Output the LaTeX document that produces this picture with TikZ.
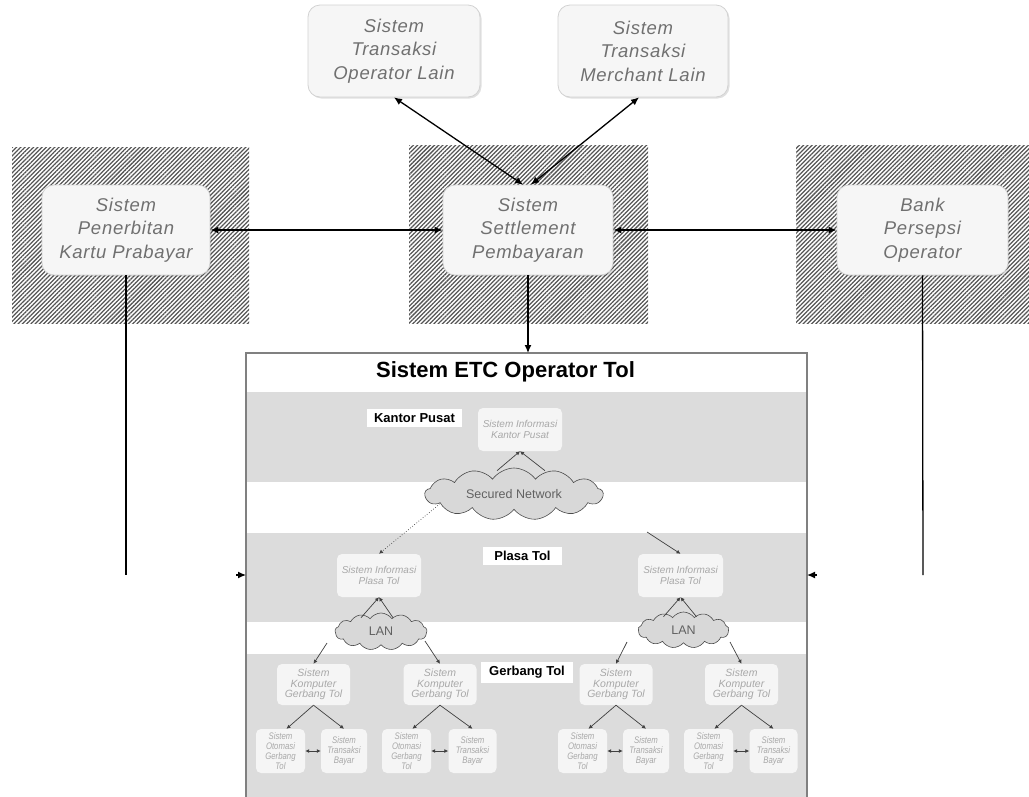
\documentclass[tikz,border=0pt]{standalone}
\usepackage{fontspec}
\setmainfont{Liberation Sans}
\newfontfamily\topfont[LetterSpace=4]{Liberation Sans}
\newfontfamily\narrowfont[FakeStretch=0.82]{Liberation Sans}
\usetikzlibrary{arrows.meta,patterns.meta,shapes.symbols,calc,shadows}
\definecolor{boxfill}{HTML}{F6F6F6}
\definecolor{boxline}{HTML}{D2D2D2}
\definecolor{boxtext}{HTML}{707070}
\definecolor{band}{HTML}{DCDCDC}
\definecolor{innerfill}{HTML}{F5F5F5}
\definecolor{innertext}{HTML}{A8A8A8}
\definecolor{cloudfill}{HTML}{D8D8D8}
\definecolor{etcline}{HTML}{808080}
\definecolor{hatch}{HTML}{555555}
\tikzset{
  bigbox/.style={rectangle, rounded corners=12pt, fill=boxfill, draw=boxline, line width=0.8pt,
    font=\topfont\itshape\fontsize{18.5}{23.5}\selectfont, text=boxtext, align=center, inner sep=0pt,
    drop shadow={shadow xshift=1.5pt, shadow yshift=-1.5pt, fill=black, opacity=0.12}},
  hatchbox/.style={pattern={Lines[angle=45,distance=3pt,line width=1.25pt]}, pattern color=hatch},
  innerbox/.style={rectangle, rounded corners=5pt, fill=innerfill, align=center, inner sep=0pt,
    text=innertext, font=\itshape\fontsize{10}{11}\selectfont},
  kompbox/.style={innerbox, minimum width=73pt, minimum height=41pt, font=\itshape\fontsize{10.5}{10.5}\selectfont},
  tinybox/.style={innerbox, minimum height=44pt, font=\narrowfont\itshape\fontsize{9.5}{9.8}\selectfont},
  tierlabel/.style={fill=white, font=\bfseries\fontsize{13}{15}\selectfont, inner sep=0pt},
  netcloud/.style={cloud, cloud puffs=13, cloud puff arc=110, cloud ignores aspect, fill=cloudfill,
    draw=black!70, line width=0.6pt, inner sep=0pt, text=black!62, font=\fontsize{12.5}{14}\selectfont},
  bigarrow/.style={line width=1.3pt, {Latex[length=8pt,width=7pt]}-{Latex[length=8pt,width=7pt]}},
  bigline/.style={line width=1.3pt},
  downarrow/.style={line width=1.3pt, -{Latex[length=8pt,width=7pt]}},
  link/.style={draw=black!75, line width=0.7pt, -{Latex[length=4pt,width=4pt]}},
  dotlink/.style={link, dotted},
  dlink/.style={draw=black!75, line width=0.8pt, {Latex[length=4pt,width=4pt]}-{Latex[length=4pt,width=4pt]}},
}
\begin{document}
\begin{tikzpicture}[x=1pt,y=-1pt]
\useasboundingbox (0,0) rectangle (1029,796);

% hatched regions
\fill[hatchbox] (12,147) rectangle (249,323);
\fill[hatchbox] (409,145) rectangle (648,323);
\fill[hatchbox] (796,145) rectangle (1029,323);

% top-level boxes
\node[bigbox, minimum width=172pt, minimum height=92pt] (opl) at (394,51) {Sistem\\Transaksi\\Operator Lain};
\node[bigbox, minimum width=170pt, minimum height=92pt] (mer) at (643,51) {Sistem\\Transaksi\\Merchant Lain};
\node[bigbox, minimum width=168pt, minimum height=90pt] (kartu) at (126,230) {Sistem\\Penerbitan\\Kartu Prabayar};
\node[bigbox, minimum width=170pt, minimum height=90pt] (settle) at (528,230) {Sistem\\Settlement\\Pembayaran};
\node[bigbox, minimum width=171pt, minimum height=90pt] (bank) at (922.5,230) {Bank\\Persepsi\\Operator};

% ETC system container
\fill[band] (247,392) rectangle (807,482);
\fill[band] (247,533) rectangle (807,622);
\fill[band] (247,654) rectangle (807,800);
\draw[etcline, line width=2pt] (246,800) -- (246,353) -- (807,353) -- (807,800);
\coordinate (etcTop) at (528,353);
\coordinate (etcL) at (246,575);
\coordinate (etcR) at (807,575);
\node[font=\bfseries\fontsize{22}{26}\selectfont] (title) at (505.5,372) {Sistem ETC Operator Tol};

% top connectors
\draw[bigarrow] (opl.south) -- ($(settle.north)+(-5,0)$);
\draw[bigarrow] ($(mer.south)+(-4,0)$) -- ($(settle.north)+(3,0)$);
\draw[bigarrow] (kartu.east) -- (settle.west);
\draw[bigarrow] (settle.east) -- (bank.west);
\draw[downarrow] (settle.south) -- (etcTop);
\coordinate (kdown) at (126,575);
\coordinate (bdown) at (923,575);
\draw[bigline] (kartu.south) -- (kdown);
\draw[bigline] (bank.south) -- (bdown);
\coordinate (ltail) at (236,575);
\coordinate (rtail) at (817,575);
\draw[downarrow] (ltail) -- (etcL);
\draw[downarrow] (rtail) -- (etcR);

% Kantor Pusat tier
\node[tierlabel, minimum width=95pt, minimum height=18pt] (kp) at (414.5,418) {Kantor Pusat};
\node[innerbox, minimum width=84pt, minimum height=43pt] (sik) at (520,429.5) {Sistem Informasi\\Kantor Pusat};
\node[netcloud, minimum width=178pt, minimum height=52pt] (sec) at (514,494) {Secured Network};
\draw[link] ($(sec.north)+(-17,3)$) -- (sik.south);
\draw[link] ($(sec.north)+(31,3)$) -- (sik.south);

% Plasa Tol tier
\node[tierlabel, minimum width=79pt, minimum height=18pt] (pt) at (522.5,556) {Plasa Tol};
\node[innerbox, minimum width=84pt, minimum height=43pt] (sip1) at (379,575.5) {Sistem Informasi\\Plasa Tol};
\node[innerbox, minimum width=85pt, minimum height=43pt] (sip2) at (680.5,575.5) {Sistem Informasi\\Plasa Tol};
\draw[dotlink] ($(sec.south)+(-74,-6)$) -- (sip1.north);
\coordinate (secr) at (647,532);
\draw[link] (secr) -- (sip2.north);
\node[netcloud, minimum width=92pt, minimum height=37pt] (lan1) at (381,631.5) {LAN};
\node[netcloud, minimum width=91pt, minimum height=36pt] (lan2) at (683.5,630) {LAN};
\draw[link] ($(lan1.north)+(-20,5)$) -- (sip1.south);
\draw[link] ($(lan1.north)+(12,5)$) -- (sip1.south);
\draw[link] ($(lan2.north)+(-20,5)$) -- (sip2.south);
\draw[link] ($(lan2.north)+(13,5)$) -- (sip2.south);

% Gerbang Tol tier
\node[tierlabel, minimum width=92pt, minimum height=21pt] (gt) at (527,672.5) {Gerbang Tol};
\node[kompbox] (k1) at (313.5,684.5) {Sistem\\Komputer\\Gerbang Tol};
\node[kompbox] (k2) at (440,684.5) {Sistem\\Komputer\\Gerbang Tol};
\node[kompbox] (k3) at (616,684.5) {Sistem\\Komputer\\Gerbang Tol};
\node[kompbox] (k4) at (741.5,684.5) {Sistem\\Komputer\\Gerbang Tol};
\coordinate (l1a) at (327,643);
\coordinate (l1b) at (425,641);
\coordinate (l2a) at (627,642);
\coordinate (l2b) at (730,642);
\draw[link] (l1a) -- (k1.north);
\draw[link] (l1b) -- (k2.north);
\draw[link] (l2a) -- (k3.north);
\draw[link] (l2b) -- (k4.north);

\node[tinybox, minimum width=49pt] (o1) at (280.5,751) {Sistem\\Otomasi\\Gerbang\\Tol};
\node[tinybox, minimum width=46pt] (t1) at (344,751) {Sistem\\Transaksi\\Bayar};
\node[tinybox, minimum width=49pt] (o2) at (406.5,751) {Sistem\\Otomasi\\Gerbang\\Tol};
\node[tinybox, minimum width=48pt] (t2) at (472.5,751) {Sistem\\Transaksi\\Bayar};
\node[tinybox, minimum width=49pt] (o3) at (582.5,751) {Sistem\\Otomasi\\Gerbang\\Tol};
\node[tinybox, minimum width=46pt] (t3) at (646,751) {Sistem\\Transaksi\\Bayar};
\node[tinybox, minimum width=49pt] (o4) at (708.5,751) {Sistem\\Otomasi\\Gerbang\\Tol};
\node[tinybox, minimum width=48pt] (t4) at (773.5,751) {Sistem\\Transaksi\\Bayar};

\foreach \k/\o/\t in {k1/o1/t1, k2/o2/t2, k3/o3/t3, k4/o4/t4}{
  \draw[link] (\k.south) -- ($(\o.north)+(6,0)$);
  \draw[link] (\k.south) -- (\t.north);
  \draw[dlink] (\o.east) -- (\t.west);
}
\end{tikzpicture}
\end{document}
